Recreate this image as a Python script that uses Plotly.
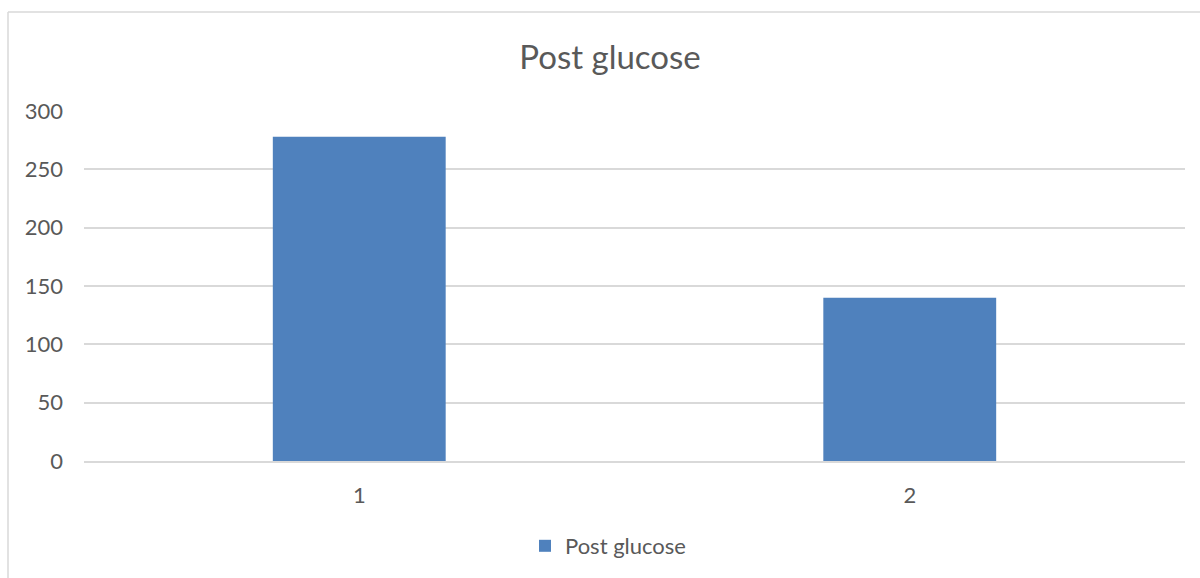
import plotly.graph_objects as go

categories = ["1", "2"]
post_glucose = [278, 140]
y_ticks = [0, 50, 100, 150, 200, 250, 300]

TEXT = "#595959"
GRID = "#d9d9d9"
FONT = "Lato, 'Open Sans', sans-serif"

# plot area in pixels
L, R, T, B = 84, 15, 111, 117
W, H = 1200, 578
pw, ph = W - L - R, H - T - B

def px_x(x):
    return (x - L) / pw

def px_y(y):
    return (H - B - y) / ph

fig = go.Figure()
fig.add_trace(go.Bar(
    x=categories, y=post_glucose, name="Post glucose",
    marker=dict(color="#4f81bd", line=dict(width=0)),
    showlegend=True,
))

fig.update_layout(
    width=W, height=H,
    margin=dict(l=L, r=R, t=T, b=B, autoexpand=False),
    paper_bgcolor="white", plot_bgcolor="white",
    font=dict(family=FONT, color=TEXT, size=22),
    bargap=0.686,
    title=dict(text="Post glucose", x=610 / W, xref="container", xanchor="center",
               y=1 - 57 / H, yref="container", yanchor="middle",
               font=dict(size=33, color=TEXT, family=FONT)),
    showlegend=True,
    legend=dict(orientation="h", x=px_x(608), xanchor="center",
                y=px_y(546), yanchor="middle", font=dict(size=22, color=TEXT),
                itemwidth=30),
    xaxis=dict(type="category", showgrid=False, showline=True, linecolor=GRID,
               linewidth=1.5, ticks="", tickfont=dict(size=22, color=TEXT),
               ticklabelstandoff=14, zeroline=False, automargin=False),
    yaxis=dict(range=[0, 300], tickvals=y_ticks, showgrid=True, gridcolor=GRID,
               gridwidth=1.5, zeroline=False, showline=False, ticks="",
               tickfont=dict(size=22, color=TEXT), ticklabelstandoff=20,
               automargin=False),
    shapes=[
        dict(type="line", xref="paper", yref="paper", x0=px_x(8), x1=px_x(8),
             y0=px_y(12), y1=px_y(H + 5), line=dict(color=GRID, width=1.5)),
        dict(type="line", xref="paper", yref="paper", x0=px_x(8), x1=px_x(W + 5),
             y0=px_y(12), y1=px_y(12), line=dict(color=GRID, width=1.5)),
    ],
)

fig.write_html("out.html")
